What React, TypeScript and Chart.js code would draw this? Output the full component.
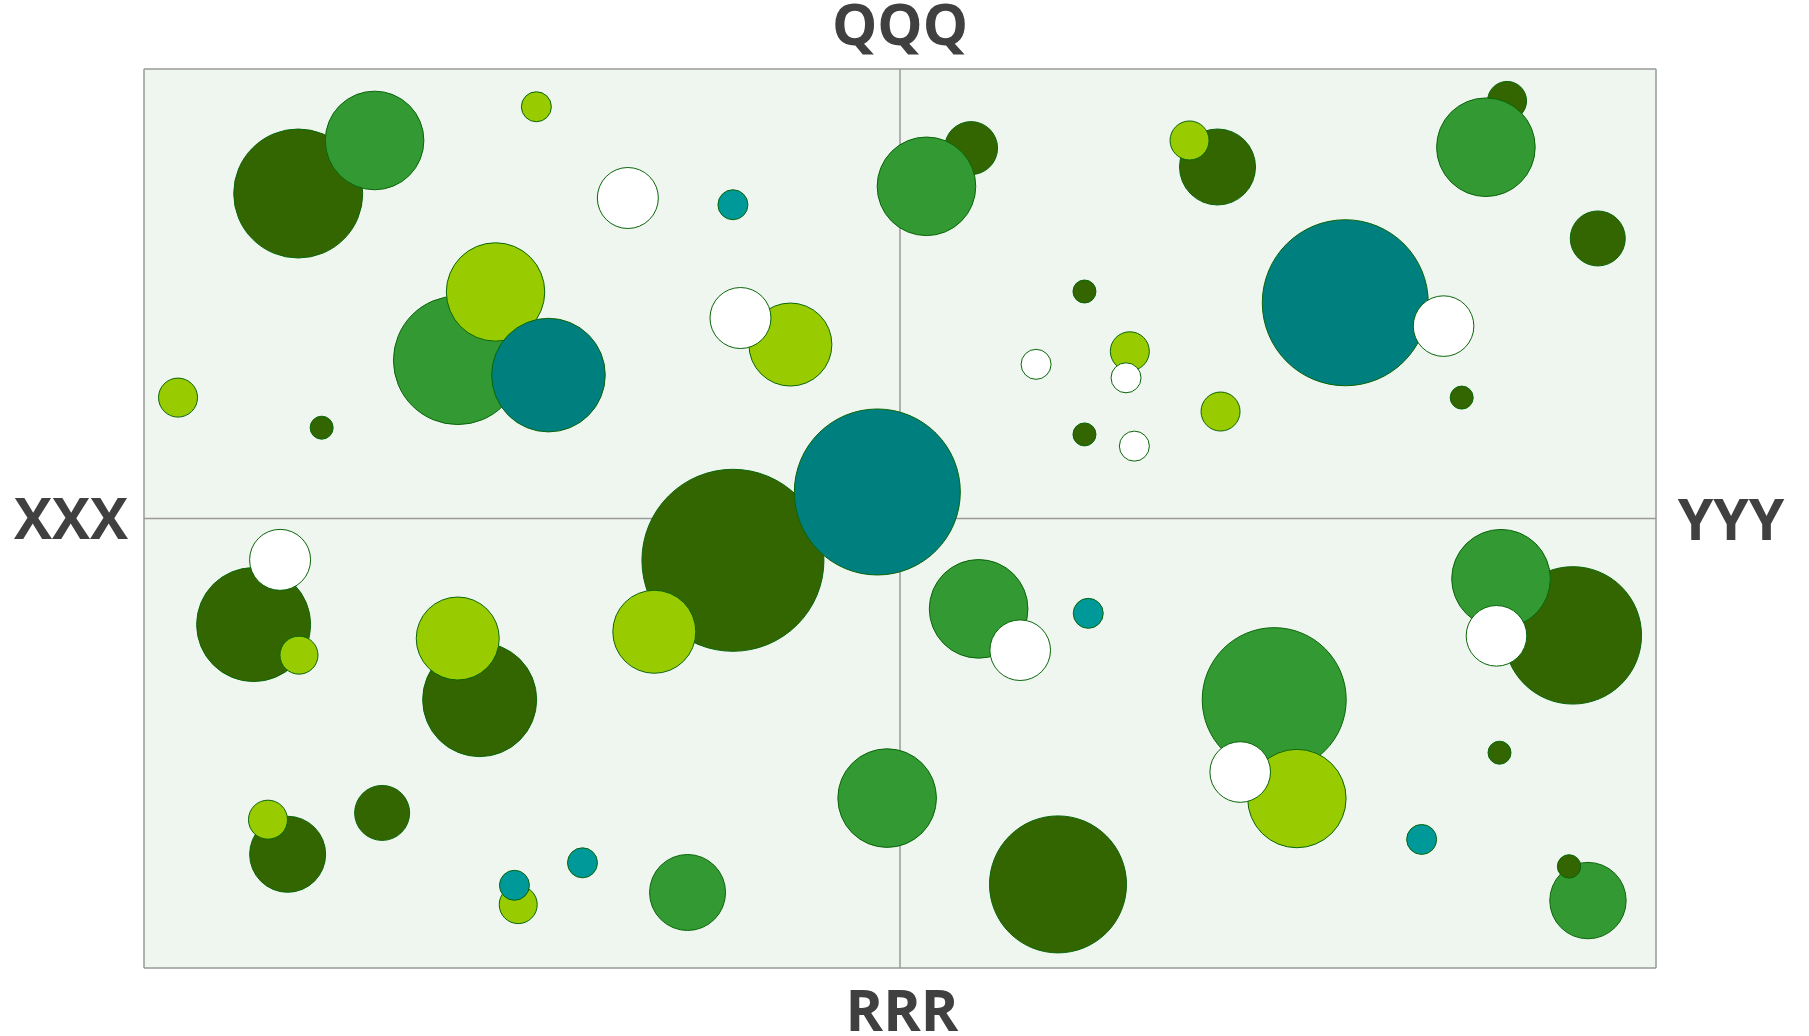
import React, { useEffect, useRef } from "react";
import { Chart, registerables } from "chart.js";

Chart.register(...registerables);

// Quadrant labels
const topLabel = "QQQ";
const bottomLabel = "RRR";
const leftLabel = "XXX";
const rightLabel = "YYY";

// Axis range (both axes symmetric around 0)
const axisMin = -100;
const axisMax = 100;

// Bubble values (drawn in this order; later points lie on top)
const pointX = [
  -79.6, -69.5, -48.1, -36.0, -22.1, -58.5, -53.5, -46.5, -14.5, -21.1,
  -95.5, -76.5, 9.4, 3.5, 42.0, 38.3, 80.3, 77.5, 92.3, 58.9,
  71.9, 24.4, 18.0, 30.4, 29.9, 24.4, 31.0, 42.4, 74.3, -85.5,
  -82.0, -79.5, -55.6, -58.5, -22.1, -32.5, -3.0, -81.0, -83.6, -68.5,
  -50.5, -51.0, -42.0, -28.1, 10.4, 15.9, 24.9, 49.5, 52.5, 45.0,
  89.0, 79.5, 78.9, -1.7, 20.9, 69.0, 79.3, 91.0, 88.5,
];
const pointY = [
  72.3, 84.1, 91.6, 71.3, 69.8, 35.2, 50.4, 31.9, 38.7, 44.6,
  26.9, 20.2, 82.4, 73.9, 78.2, 84.1, 92.9, 82.6, 62.3, 48.0,
  42.8, 50.5, 34.3, 37.2, 31.3, 18.7, 16.1, 23.8, 26.9, -23.6,
  -9.2, -30.4, -40.3, -26.7, -9.3, -25.2, 5.9, -74.7, -67.0, -65.5,
  -85.9, -81.6, -76.6, -83.2, -20.1, -29.3, -21.1, -40.3, -62.3, -56.4,
  -26.0, -13.4, -26.1, -62.2, -81.4, -71.4, -52.1, -85.0, -77.4,
];
const pointSize = [
  64.5, 49.3, 15, 30.5, 15, 64.3, 49.2, 56.8, 41.5, 30.5,
  19.5, 11.5, 26.5, 49.3, 38, 19.5, 19.5, 49.3, 27.5, 83,
  30.3, 11.5, 15, 19.5, 15, 11.5, 15, 19.5, 11.5, 57,
  30.5, 19, 57, 41.5, 91, 41.5, 83, 38, 19.5, 27.5,
  19, 15, 15, 38, 49.3, 30.3, 15, 72, 49.2, 30.3,
  68.7, 49.3, 30.3, 49.3, 68.5, 15, 11.5, 38.2, 11.7,
];
const pointGroup = [
  "dk", "gr", "li", "wh", "tl", "gr", "li", "te", "li", "wh",
  "li", "dk", "dk", "gr", "dk", "li", "dk", "gr", "dk", "te",
  "wh", "dk", "wh", "li", "wh", "dk", "wh", "li", "dk", "dk",
  "wh", "li", "dk", "li", "dk", "li", "te", "dk", "li", "dk",
  "li", "tl", "tl", "gr", "gr", "wh", "tl", "gr", "li", "wh",
  "dk", "gr", "wh", "gr", "dk", "tl", "dk", "gr", "dk",
];

const groupColours: Record<string, string> = {
  dk: "#336600",
  gr: "#339933",
  li: "#99cc00",
  te: "#007f7f",
  tl: "#009999",
  wh: "#ffffff",
};

const quadrantPlugin = {
  id: "quadrants",
  beforeDatasetsDraw(chart: any) {
    const { ctx, chartArea, scales } = chart;
    const xs = scales.x;
    const ys = scales.y;
    ctx.save();
    ctx.fillStyle = "#eff6ef";
    ctx.fillRect(chartArea.left, chartArea.top, chartArea.right - chartArea.left, chartArea.bottom - chartArea.top);
    ctx.strokeStyle = "#9a9a9a";
    ctx.lineWidth = 1.5;
    [axisMin, 0, axisMax].forEach((v) => {
      const px = xs.getPixelForValue(v);
      ctx.beginPath();
      ctx.moveTo(px, chartArea.top);
      ctx.lineTo(px, chartArea.bottom);
      ctx.stroke();
      const py = ys.getPixelForValue(v);
      ctx.beginPath();
      ctx.moveTo(chartArea.left, py);
      ctx.lineTo(chartArea.right, py);
      ctx.stroke();
    });
    ctx.restore();
  },
  afterDraw(chart: any) {
    const { ctx, chartArea } = chart;
    const cx = (chartArea.left + chartArea.right) / 2;
    const cy = (chartArea.top + chartArea.bottom) / 2;
    ctx.save();
    ctx.fillStyle = "#404040";
    ctx.font = 'bold 57px "Open Sans"';
    ctx.textAlign = "center";
    ctx.textBaseline = "alphabetic";
    ctx.fillText(topLabel, cx, chartArea.top - 24);
    ctx.fillText(bottomLabel, cx + 2, chartArea.bottom + 63);
    ctx.fillText(leftLabel, chartArea.left - 73, cy + 20);
    ctx.fillText(rightLabel, chartArea.right + 75, cy + 21);
    ctx.restore();
  },
};

export default function App() {
  const canvasRef = useRef<HTMLCanvasElement | null>(null);

  useEffect(() => {
    if (!canvasRef.current) return;
    const data = pointX.map((x, i) => ({ x, y: pointY[i], r: pointSize[i] }));
    const colours = pointGroup.map((g) => groupColours[g]);
    const chart = new Chart(canvasRef.current, {
      type: "bubble",
      data: {
        datasets: [
          {
            label: "bubbles",
            data,
            backgroundColor: colours,
            borderColor: "#0a660a",
            borderWidth: 1,
            hoverBorderWidth: 1,
          },
        ],
      },
      options: {
        animation: false,
        responsive: false,
        devicePixelRatio: 1,
        events: [],
        layout: { autoPadding: false, padding: { left: 144, right: 153, top: 69, bottom: 68 } },
        plugins: { legend: { display: false }, tooltip: { enabled: false } },
        scales: {
          x: { type: "linear", min: axisMin, max: axisMax, display: false },
          y: { type: "linear", min: axisMin, max: axisMax, display: false },
        },
        clip: false as any,
      },
      plugins: [quadrantPlugin],
    });
    return () => chart.destroy();
  }, []);

  return (
    <div style={{ position: "fixed", left: 0, top: 0, width: 1809, height: 1036, background: "#ffffff" }}>
      <canvas ref={canvasRef} width={1809} height={1036} style={{ display: "block" }} />
    </div>
  );
}
